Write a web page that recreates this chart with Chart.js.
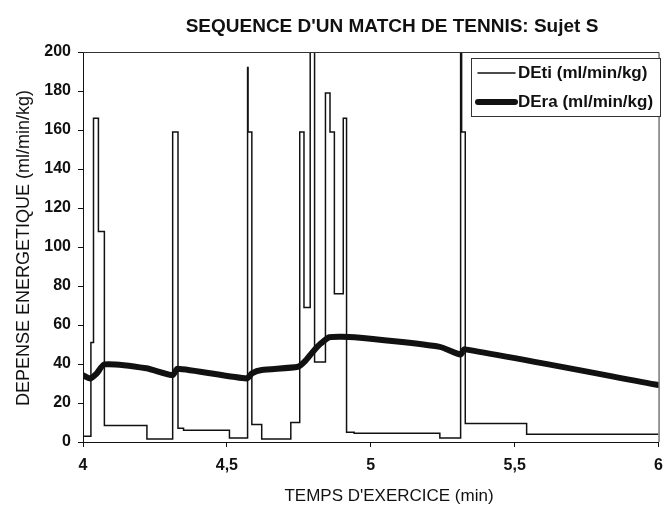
<!DOCTYPE html>
<html lang="fr">
<head>
<meta charset="UTF-8">
<title>Sequence d'un match de tennis</title>
<script src="https://cdn.jsdelivr.net/npm/chart.js"></script>
<style>
body{margin:0;background:#fff;}
canvas{display:block;}
</style>
</head>
<body>
<canvas id="tennisChart" width="672" height="506"></canvas>
<script>

// DEti : step values (min, ml/min/kg) - values > 200 are clipped at the top
const tiTimes = [4.000, 4.0275, 4.0365, 4.0536, 4.0743, 4.2221, 4.3116, 4.3301, 4.3494, 4.5089,
                 4.5719, 4.5736, 4.5867, 4.6210, 4.7221, 4.7531, 4.7679, 4.7895, 4.8047, 4.8425,
                 4.8583, 4.8735, 4.9044, 4.9158, 4.9422, 5.2400, 5.3122, 5.3157, 5.3284, 5.5416, 6.000];
const tiValues = [3, 51, 166, 108, 8.5, 1.5, 159, 7, 6, 2,
                  192, 159, 9, 1.5, 10, 159, 69, 215, 41, 179,
                  159, 76, 166, 5, 4.5, 2, 215, 159, 9.5, 4, 4];

// DEra : smoothed curve
const raTimes = [4.000, 4.025, 4.048, 4.074, 4.220, 4.312, 4.328, 4.569, 4.587, 4.621,
                 4.747, 4.770, 4.799, 4.827, 4.856, 4.943, 5.240, 5.312, 5.326, 6.000];
const raValues = [34.3, 32.6, 35.2, 39.8, 37.8, 34.3, 37.6, 32.6, 35.2, 36.9,
                  38.6, 41.2, 46.3, 50.6, 53.7, 53.7, 48.8, 44.9, 47.5, 29.2];

const xTickLabels = ['4', '4,5', '5', '5,5', '6'];
const seriesNames = ['DEti (ml/min/kg)', 'DEra (ml/min/kg)'];
const chartTitle = "SEQUENCE D'UN MATCH DE TENNIS: Sujet S";
const xTitle = "TEMPS D'EXERCICE (min)";
const yTitle = 'DEPENSE ENERGETIQUE (ml/min/kg)';

const FONT = '"Liberation Sans", Arial, sans-serif';

// frame, titles and legend box drawn on top of the chart
const decor = {
    id:'decor',
    afterDraw(chart){
        const {ctx, chartArea:a} = chart;
        ctx.save();

        ctx.strokeStyle = '#333';
        ctx.lineWidth = 1;
        ctx.beginPath();
        ctx.moveTo(a.left, a.top + 0.5);
        ctx.lineTo(a.right + 0.5, a.top + 0.5);
        ctx.lineTo(a.right + 0.5, a.bottom);
        ctx.stroke();

        ctx.fillStyle = '#111';
        ctx.textAlign = 'center';
        ctx.textBaseline = 'alphabetic';
        ctx.font = 'bold 19px ' + FONT;
        ctx.fillText(chartTitle, 392, 32);

        ctx.font = '17px ' + FONT;
        ctx.fillText(xTitle, 389, 501);

        ctx.save();
        ctx.translate(29, 248);
        ctx.rotate(-Math.PI / 2);
        ctx.font = '18px ' + FONT;
        ctx.fillText(yTitle, 0, 0);
        ctx.restore();

        // legend
        const lx = 471, ly = 58, lw = 189, lh = 58;
        ctx.fillStyle = '#fff';
        ctx.fillRect(lx, ly, lw, lh);
        ctx.strokeStyle = '#333';
        ctx.strokeRect(lx + 0.5, ly + 0.5, lw, lh);
        ctx.textAlign = 'left';
        ctx.textBaseline = 'middle';
        ctx.font = 'bold 17px ' + FONT;
        chart.data.datasets.forEach((ds, i) => {
            const y = ly + 15 + i * 29;
            ctx.strokeStyle = ds.borderColor;
            ctx.lineWidth = ds.borderWidth;
            ctx.lineCap = 'round';
            ctx.beginPath();
            ctx.moveTo(lx + 7, y);
            ctx.lineTo(lx + 44, y);
            ctx.stroke();
            ctx.fillStyle = '#111';
            ctx.fillText(ds.label, lx + 47, y);
        });

        ctx.restore();
    }
};

const ctx = document.getElementById('tennisChart').getContext('2d');

new Chart(ctx, {
    type:'line',
    data:{
        datasets:[{
            label:seriesNames[0],
            data:tiTimes.map((t, i) => ({x:t, y:tiValues[i]})),
            borderColor:'#111',
            borderWidth:1.5,
            stepped:true,
            pointRadius:0,
            fill:false
        },{
            label:seriesNames[1],
            data:raTimes.map((t, i) => ({x:t, y:raValues[i]})),
            borderColor:'#111',
            borderWidth:6,
            borderCapStyle:'round',
            borderJoinStyle:'round',
            tension:0.2,
            pointRadius:0,
            fill:false
        }]
    },
    options:{
        responsive:false,
        animation:false,
        layout:{padding:{top:52, right:8, left:0, bottom:0}},
        plugins:{
            legend:{display:false},
            tooltip:{enabled:false}
        },
        scales:{
            x:{
                type:'linear',
                min:4, max:6,
                afterFit(scale){ scale.height = 64; },
                afterBuildTicks(scale){
                    scale.ticks = xTickLabels.map((_, i) => ({value:4 + i * 0.5}));
                },
                ticks:{
                    padding:9,
                    color:'#111',
                    font:{family:FONT, size:16, weight:'bold'},
                    callback:(v, i) => xTickLabels[i]
                },
                grid:{drawOnChartArea:false, tickLength:5, color:'#111'},
                border:{color:'#111', width:1}
            },
            y:{
                min:0, max:200,
                afterFit(scale){ scale.width = 83; },
                ticks:{
                    stepSize:20,
                    padding:7,
                    color:'#111',
                    font:{family:FONT, size:16, weight:'bold'}
                },
                grid:{drawOnChartArea:false, tickLength:5, color:'#111'},
                border:{color:'#111', width:1}
            }
        }
    },
    plugins:[decor]
});

</script>
</body>
</html>
